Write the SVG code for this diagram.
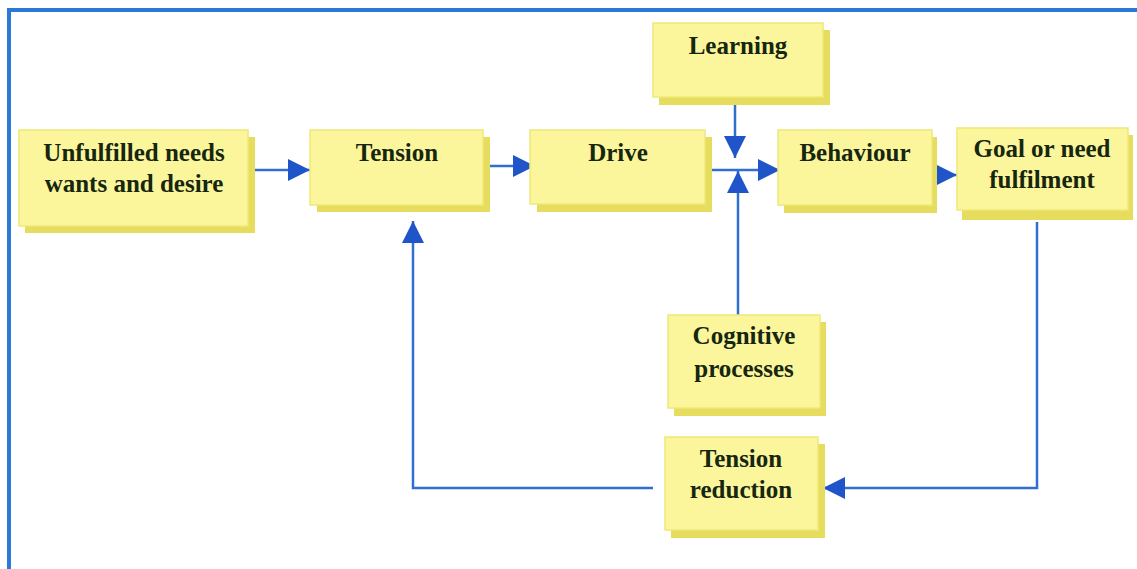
<svg xmlns="http://www.w3.org/2000/svg" width="1137" height="569" viewBox="0 0 1137 569">
<style>
.sh{fill:#e6dc5e}
.bx{fill:#fbf69c;stroke:#f0e878;stroke-width:1.5}
.t{font-family:"Liberation Serif","Times New Roman",serif;font-weight:bold;font-size:25px;fill:#17260f;text-anchor:middle}
.c{stroke:#2f6fd0;stroke-width:2.5;fill:none}
</style>
<defs>
<marker id="ah" markerWidth="22" markerHeight="22" refX="22" refY="11" orient="auto" markerUnits="userSpaceOnUse">
<path d="M0,0 L22,11 L0,22 Z" fill="#1f55c8"/>
</marker>
</defs>
<rect x="0" y="0" width="1137" height="569" fill="#ffffff"/>
<path d="M9,569 V10 H1137" stroke="#2a78d8" stroke-width="4" fill="none"/>
<g id="connectors">
<line class="c" x1="252" y1="170" x2="310" y2="170" marker-end="url(#ah)"/>
<line class="c" x1="478" y1="166" x2="535" y2="166" marker-end="url(#ah)"/>
<line class="c" x1="710" y1="170" x2="780" y2="170" marker-end="url(#ah)"/>
<line class="c" x1="735" y1="103" x2="735" y2="158" marker-end="url(#ah)"/>
<line class="c" x1="738" y1="315" x2="738" y2="171" marker-end="url(#ah)"/>
<line class="c" x1="937" y1="175" x2="957" y2="175" marker-end="url(#ah)"/>
<polyline class="c" points="1037,222 1037,488 823,488" marker-end="url(#ah)"/>
<polyline class="c" points="653,488 413,488 413,221" marker-end="url(#ah)"/>
</g>
<g id="unfulfilled">
<rect class="sh" x="25" y="137" width="230" height="96"/>
<rect class="bx" x="19" y="130" width="229" height="96"/>
<text class="t" x="134" y="161">Unfulfilled needs</text>
<text class="t" x="134" y="192">wants and desire</text>
</g>
<g id="tension">
<rect class="sh" x="317" y="137" width="173" height="75"/>
<rect class="bx" x="310" y="130" width="173" height="75"/>
<text class="t" x="397" y="161">Tension</text>
</g>
<g id="drive">
<rect class="sh" x="537" y="137" width="175" height="75"/>
<rect class="bx" x="530" y="130" width="175" height="74"/>
<text class="t" x="618" y="161">Drive</text>
</g>
<g id="learning">
<rect class="sh" x="659" y="30" width="171" height="75"/>
<rect class="bx" x="653" y="23" width="170" height="74"/>
<text class="t" x="738" y="54">Learning</text>
</g>
<g id="behaviour">
<rect class="sh" x="784" y="137" width="153" height="76"/>
<rect class="bx" x="778" y="130" width="154" height="75"/>
<text class="t" x="855" y="161">Behaviour</text>
</g>
<g id="goal">
<rect class="sh" x="962" y="135" width="171" height="85"/>
<rect class="bx" x="957" y="128" width="171" height="82"/>
<text class="t" x="1042" y="157">Goal or need</text>
<text class="t" x="1042" y="188">fulfilment</text>
</g>
<g id="cognitive">
<rect class="sh" x="674" y="322" width="152" height="94"/>
<rect class="bx" x="668" y="315" width="152" height="93"/>
<text class="t" x="744" y="344">Cognitive</text>
<text class="t" x="744" y="377">processes</text>
</g>
<g id="tension-reduction">
<rect class="sh" x="671" y="444" width="154" height="94"/>
<rect class="bx" x="665" y="437" width="153" height="93"/>
<text class="t" x="741" y="467">Tension</text>
<text class="t" x="741" y="498">reduction</text>
</g>
</svg>
